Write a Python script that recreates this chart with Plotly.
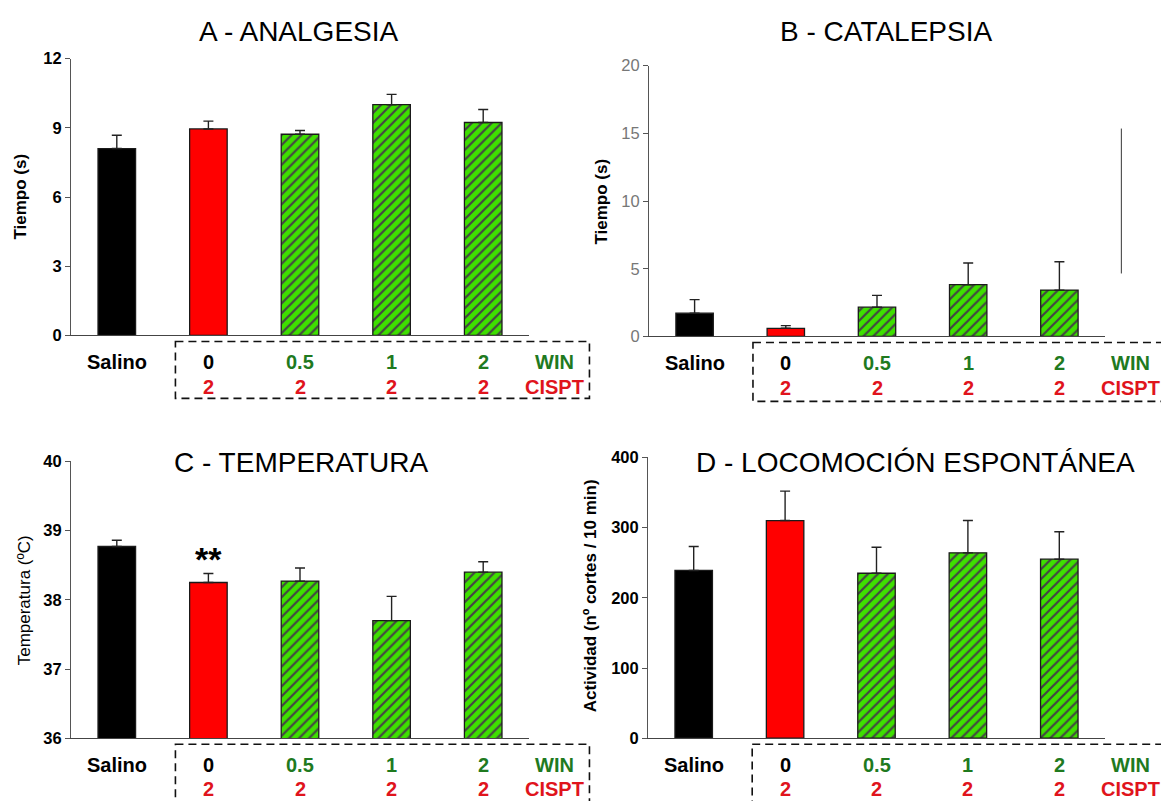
import plotly.graph_objects as go

W, H = 1161, 801
FONT = "Liberation Sans, Arial, sans-serif"

# ---------------- data ----------------
groups = ["Salino", "0", "0.5", "1", "2"]
win_doses = ["0", "0.5", "1", "2"]
cispt_doses = ["2", "2", "2", "2"]

analgesia_mean = [8.10, 8.95, 8.72, 10.00, 9.23]
analgesia_sem = [0.58, 0.34, 0.16, 0.45, 0.56]

catalepsia_mean = [1.72, 0.60, 2.16, 3.82, 3.42]
catalepsia_sem = [1.00, 0.20, 0.87, 1.60, 2.10]

temperatura_mean = [38.77, 38.25, 38.27, 37.70, 38.40]
temperatura_sem = [0.09, 0.13, 0.19, 0.35, 0.15]

locomocion_mean = [239, 310, 235, 264, 255]
locomocion_sem = [34, 42, 37, 46, 39]

titles = ["A - ANALGESIA", "B - CATALEPSIA", "C - TEMPERATURA", "D - LOCOMOCIÓN ESPONTÁNEA"]
ytitles = ["Tiempo (s)", "Tiempo (s)", "Temperatura (ºC)", "Actividad (nº cortes / 10 min)"]

# ---------------- styles ----------------
bar_colors = ["#000000", "#ff0000", "#3ee000", "#3ee000", "#3ee000"]
bar_patterns = ["", "", "/", "/", "/"]
stripe_colors = ["#b8280c"] * 5
stripe_sizes = [7] * 5
stripe_solidity = [0.32] * 5
GREEN_TXT = "#1f7a1f"
RED_TXT = "#e0141c"

# vertical calibration of the capture (page is shown slightly squeezed)
V_OFF, V_SCALE = 8.4, 0.978


def fy(y):
    """target screen y (px) -> figure y (px)"""
    return (y - V_OFF) / V_SCALE


# panel geometry in screen pixels: (x0, x1), (y_top, y_bottom)
panels = [
    dict(px=(71, 529), py=(58, 335), yrange=[0, 12], dtick=3, mean=analgesia_mean, sem=analgesia_sem,
         tickbold=True, tickcolor="#000", title_xy=(299, 31), ytitle_xy=(21, 196), ytitle_bold=True,
         box_bottom=63),
    dict(px=(649, 1105), py=(65, 336), yrange=[0, 20], dtick=5, mean=catalepsia_mean, sem=catalepsia_sem,
         tickbold=False, tickcolor="#777", title_xy=(886, 31), ytitle_xy=(602, 201), ytitle_bold=True,
         box_bottom=65),
    dict(px=(71, 529), py=(461, 738), yrange=[36, 40], dtick=1, mean=temperatura_mean, sem=temperatura_sem,
         tickbold=True, tickcolor="#000", title_xy=(301, 462), ytitle_xy=(24, 600), ytitle_bold=False,
         box_bottom=80),
    dict(px=(648, 1105), py=(457, 738), yrange=[0, 400], dtick=100, mean=locomocion_mean, sem=locomocion_sem,
         tickbold=True, tickcolor="#000", title_xy=(915, 462), ytitle_xy=(590, 596), ytitle_bold=True,
         box_bottom=80),
]

xpos = list(range(len(groups)))
XR = [-0.5, len(groups) - 0.5]


def xd(v):
    return (v - XR[0]) / (XR[1] - XR[0])


fig = go.Figure()
annotations = []
shapes = []

for i, p in enumerate(panels, start=1):
    xa = "x" if i == 1 else f"x{i}"
    ya = "y" if i == 1 else f"y{i}"
    fig.add_trace(go.Bar(
        x=xpos, y=p["mean"], xaxis=xa, yaxis=ya, width=0.41,
        marker=dict(color=bar_colors, line=dict(color="#1a1a1a", width=1.3),
                    pattern=dict(shape=bar_patterns, fillmode="overlay", fgcolor=stripe_colors,
                                 fgopacity=1, size=stripe_sizes, solidity=stripe_solidity)),
        error_y=dict(type="data", symmetric=False, array=p["sem"], arrayminus=[0] * len(groups),
                     color="#222", thickness=1.4, width=5),
        showlegend=False, hoverinfo="skip",
    ))
    x0, x1 = p["px"]
    yt, yb = p["py"]
    dom_x = [x0 / W, x1 / W]
    dom_y = [1 - fy(yb) / H, 1 - fy(yt) / H]
    plot_h = yb - yt
    fig.update_layout(**{
        ("xaxis" if i == 1 else f"xaxis{i}"): dict(
            domain=dom_x, range=XR, showline=True, linecolor="#444", linewidth=1,
            showticklabels=False, ticks="", showgrid=False, zeroline=False, anchor=ya, fixedrange=True),
        ("yaxis" if i == 1 else f"yaxis{i}"): dict(
            domain=dom_y, range=p["yrange"], dtick=p["dtick"], showline=True, linecolor="#555", linewidth=1,
            ticks="outside", ticklen=5, tickcolor="#555", showgrid=False, zeroline=False, anchor=xa,
            tickfont=dict(family=FONT, size=16.5, color=p["tickcolor"],
                          weight="bold" if p["tickbold"] else "normal"),
            fixedrange=True),
    })

    # titles
    annotations.append(dict(text=titles[i - 1], xref="paper", yref="paper",
                            x=p["title_xy"][0] / W, y=1 - fy(p["title_xy"][1]) / H,
                            xanchor="center", yanchor="middle", showarrow=False,
                            font=dict(family=FONT, size=28, color="#000")))
    # y-axis titles
    annotations.append(dict(text=ytitles[i - 1], xref="paper", yref="paper",
                            x=p["ytitle_xy"][0] / W, y=1 - fy(p["ytitle_xy"][1]) / H,
                            xanchor="center", yanchor="middle", textangle=-90, showarrow=False,
                            font=dict(family=FONT, size=17, color="#000",
                                      weight="bold" if p["ytitle_bold"] else "normal")))

    xdom = f"{xa} domain"
    ydom = f"{ya} domain"
    lab_font = dict(family=FONT, size=20, weight="bold")

    def label(text, xv, shift, color):
        annotations.append(dict(text=text, x=xd(xv), xref=xdom, y=0, yref=ydom, yshift=shift / V_SCALE,
                                xanchor="center", yanchor="middle", showarrow=False,
                                font=dict(lab_font, color=color)))

    label(groups[0], xpos[0], -26, "#000")
    for k, (w, c) in enumerate(zip(win_doses, cispt_doses)):
        label(w, xpos[k + 1], -26, "#000" if k == 0 else GREEN_TXT)
        label(c, xpos[k + 1], -50, RED_TXT)
    x_lab = 4.78
    label("WIN", x_lab, -26, GREEN_TXT)
    label("CISPT", x_lab, -50, RED_TXT)

    # dashed box around treatment labels
    shapes.append(dict(type="rect", xref=xdom, yref=ydom,
                       x0=xd(0.64), x1=xd(5.16), y0=-6 / plot_h, y1=-p["box_bottom"] / plot_h,
                       line=dict(color="#111", width=1.6, dash="8px,5px"), fillcolor="rgba(0,0,0,0)"))

# stray vertical line in panel B
shapes.append(dict(type="line", xref="x2 domain", yref="y2 domain",
                   x0=xd(4.68), x1=xd(4.68), y0=4.65 / 20, y1=15.35 / 20,
                   line=dict(color="#555", width=1.2)))

# significance mark in panel C
annotations.append(dict(text="**", x=xpos[1], xref="x3", y=temperatura_mean[1] + temperatura_sem[1],
                        yref="y3", yanchor="bottom", yshift=-6, showarrow=False,
                        font=dict(family=FONT, size=34, color="#000", weight="bold")))

fig.update_layout(width=W, height=H, autosize=False, margin=dict(l=0, r=0, t=0, b=0),
                  paper_bgcolor="white", plot_bgcolor="white", bargap=0.5,
                  annotations=annotations, shapes=shapes, font=dict(family=FONT))

fig.write_html(
    "out.html",
    config={"displayModeBar": False},
    post_script=("document.documentElement.style.margin='0';"
                 "document.documentElement.style.overflow='hidden';"
                 "document.body.style.margin='0';document.body.style.overflow='hidden';"),
)
